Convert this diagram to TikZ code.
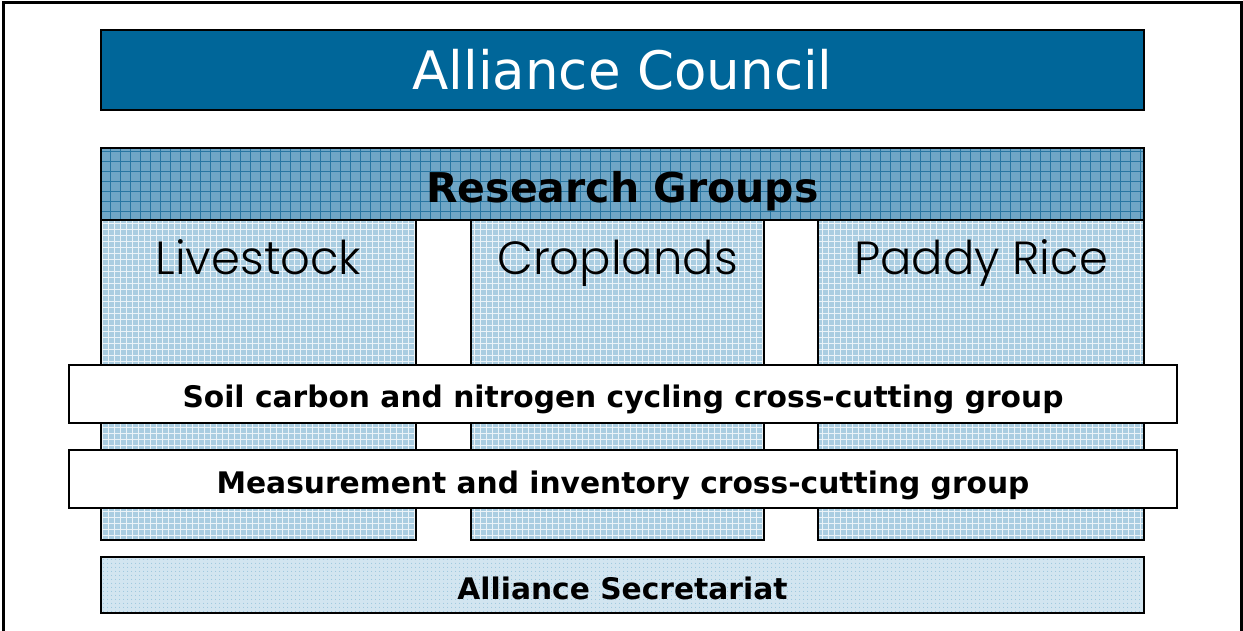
\documentclass[tikz,border=0pt]{standalone}
\usepackage{fontspec}
\setmainfont{DejaVu Sans}
\newfontfamily\lightfont{Poppins Light}
\usetikzlibrary{patterns.meta}

\definecolor{councilblue}{RGB}{0,102,153}
\definecolor{headerblue}{RGB}{112,166,198}
\definecolor{headergrid}{RGB}{40,118,162}
\definecolor{groupblue}{RGB}{170,205,225}
\definecolor{groupgrid}{RGB}{235,243,248}
\definecolor{secretblue}{RGB}{210,229,240}
\definecolor{secretgrid}{RGB}{150,195,220}

\begin{document}
\begin{tikzpicture}[x=1pt, y=-1pt,
	box/.style={draw=black, line width=1.6pt, minimum width=1043pt, inner sep=0pt},
	groupcol/.style={draw=black, line width=1.6pt, minimum height=320pt, inner sep=0pt,
		preaction={fill=groupblue},
		preaction={pattern={Hatch[distance=6pt, line width=0.7pt]}, pattern color=groupgrid}},
	grouplabel/.style={font=\lightfont\fontsize{46.5}{50}\selectfont, anchor=base, inner sep=0pt},
	band/.style={draw=black, line width=1.6pt, fill=white, minimum width=1108pt, minimum height=58pt,
		inner sep=0pt, font=\fontsize{29.7}{34}\selectfont\bfseries}]
	\useasboundingbox (0,0) rectangle (1243,631);
	% outer frame
	\draw[line width=3pt] (3,631) -- (3,3) -- (1241,3) -- (1241,631);
	% council
	\node[box, fill=councilblue, minimum height=80pt, text=white, font=\fontsize{53}{57}\selectfont] (council) at (622.5,70) {Alliance Council};
	% research groups
	\node[groupcol, minimum width=315pt] (livestock) at (258.5,380) {};
	\node[groupcol, minimum width=293pt] (croplands) at (617.5,380) {};
	\node[groupcol, minimum width=326pt] (paddyrice) at (981,380) {};
	\node[grouplabel] (livestocklabel) at (258.5,275) {Livestock};
	\node[grouplabel] (croplandslabel) at (617.5,275) {Croplands};
	\node[grouplabel] (paddyricelabel) at (981,275) {Paddy Rice};
	\node[box, minimum height=72pt, preaction={fill=headerblue},
		preaction={pattern={Hatch[distance=10pt, line width=0.9pt]}, pattern color=headergrid}] (groups) at (622.5,184) {};
	\node[font=\fontsize{41}{45}\selectfont\bfseries, inner sep=0pt] (groupstitle) at (622.5,191) {Research Groups};
	% cross-cutting groups
	\node[band] (soil) at (623,394) {};
	\node[band, draw=none, fill=none] (soiltitle) at (623,399) {Soil carbon and nitrogen cycling cross-cutting group};
	\node[band] (measure) at (623,479) {};
	\node[band, draw=none, fill=none] (measuretitle) at (623,485) {Measurement and inventory cross-cutting group};
	% secretariat
	\node[box, minimum height=56pt, preaction={fill=secretblue},
		preaction={pattern={Dots[distance=4pt, radius=0.6pt]}, pattern color=secretgrid}] (secretariat) at (622.5,585) {};
	\node[font=\fontsize{29.7}{34}\selectfont\bfseries, inner sep=0pt] (secretariattitle) at (622.5,588) {Alliance Secretariat};
\end{tikzpicture}
\end{document}
